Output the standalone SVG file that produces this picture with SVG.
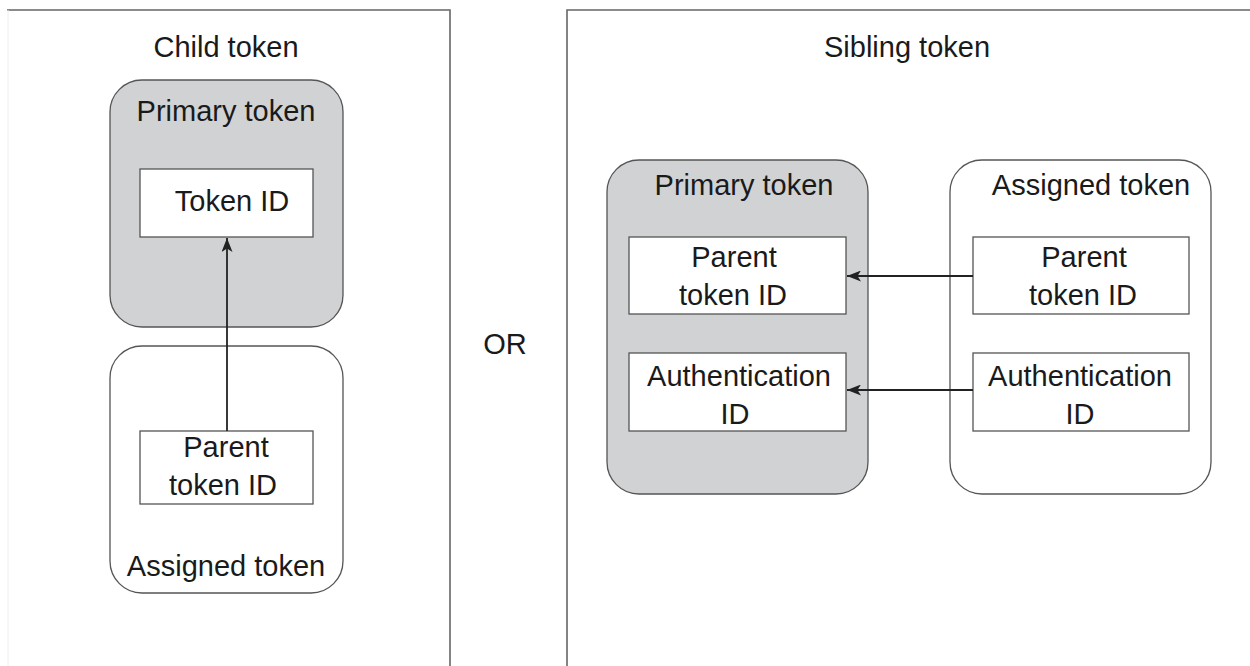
<svg xmlns="http://www.w3.org/2000/svg" width="1250" height="666" viewBox="0 0 1250 666">
<defs>
<marker id="arrow" viewBox="0 0 14 11" refX="14" refY="5.5" markerWidth="14" markerHeight="11" markerUnits="userSpaceOnUse" orient="auto">
<path d="M0,0 L14,5.5 L0,11 L3.5,5.5 Z" fill="#222"/>
</marker>
<style>
text{font-family:"Liberation Sans",Arial,sans-serif;font-size:29px;fill:#1a1a1a;text-anchor:middle}
.frame{stroke:#666;stroke-width:1.6;fill:none}
.gray{fill:#d1d2d4;stroke:#555;stroke-width:1.3}
.white{fill:#fff;stroke:#555;stroke-width:1.3}
.field{fill:#fff;stroke:#555;stroke-width:1.3}
.conn{stroke:#222;stroke-width:1.8;fill:none}
</style>
</defs>
<rect width="1250" height="666" fill="#fff"/>
<g id="frame-child">
<path class="frame" d="M7,10 H450 V666"/>
<path d="M8,10 V666" stroke="#eee" stroke-width="1"/>
<text x="226" y="57" font-size="30">Child token</text>
</g>
<g id="frame-sibling">
<path class="frame" d="M567,666 V10 H1250"/>
<text x="907" y="57">Sibling token</text>
</g>
<g id="or"><text x="505" y="354">OR</text></g>
<g id="left-primary">
<rect class="gray" x="110" y="80" width="233" height="247" rx="32"/>
<text x="226" y="121">Primary token</text>
</g>
<g id="left-tokenid">
<rect class="field" x="140" y="169" width="173" height="68"/>
<text x="232" y="211">Token ID</text>
</g>
<g id="left-assigned">
<rect class="white" x="110" y="346" width="233" height="247" rx="32"/>
<text x="226" y="576">Assigned token</text>
</g>
<g id="left-parentid">
<rect class="field" x="140" y="431" width="173" height="73"/>
<text x="226" y="457">Parent</text>
<text x="223" y="495">token ID</text>
</g>
<g id="right-primary">
<rect class="gray" x="607" y="160" width="261" height="334" rx="32"/>
<text x="744" y="195">Primary token</text>
</g>
<g id="right-primary-parentid">
<rect class="field" x="629" y="237" width="217" height="77"/>
<text x="734" y="267">Parent</text>
<text x="733" y="305">token ID</text>
</g>
<g id="right-primary-authid">
<rect class="field" x="629" y="353" width="217" height="78"/>
<text x="739" y="386">Authentication</text>
<text x="735" y="424">ID</text>
</g>
<g id="right-assigned">
<rect class="white" x="950" y="160" width="261" height="334" rx="32"/>
<text x="1091" y="195">Assigned token</text>
</g>
<g id="right-assigned-parentid">
<rect class="field" x="973" y="237" width="216" height="77"/>
<text x="1084" y="267">Parent</text>
<text x="1083" y="305">token ID</text>
</g>
<g id="right-assigned-authid">
<rect class="field" x="973" y="353" width="216" height="78"/>
<text x="1080" y="386">Authentication</text>
<text x="1080" y="424">ID</text>
</g>
<g id="connectors">
<path class="conn" d="M227,431 V238" marker-end="url(#arrow)"/>
<path class="conn" d="M973,276 H847" marker-end="url(#arrow)"/>
<path class="conn" d="M973,390 H847" marker-end="url(#arrow)"/>
</g>
</svg>
